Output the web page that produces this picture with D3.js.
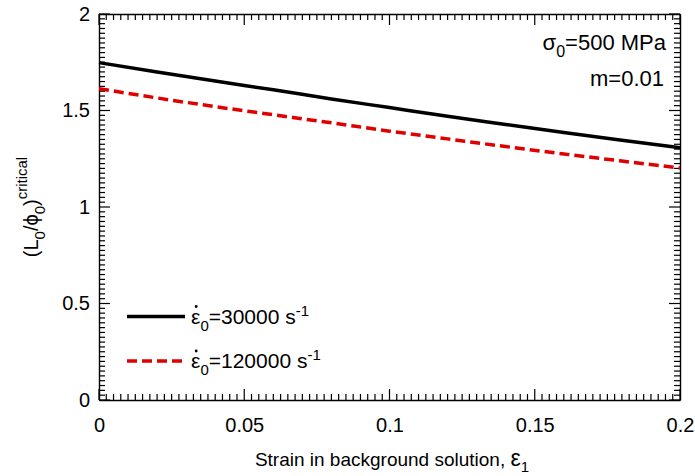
<!DOCTYPE html>
<html>
<head>
<meta charset="utf-8">
<script src="https://cdn.jsdelivr.net/npm/d3@7"></script>
<style>
  body { margin: 0; background: #fff; }
  text { font-family: Arial, "Liberation Sans", sans-serif; fill: #000; }
</style>
</head>
<body>
<div id="chart"></div>
<script>
// strain in background solution
const strain = [0, 0.02, 0.04, 0.06, 0.08, 0.1, 0.12, 0.14, 0.16, 0.18, 0.2];
// (L0/phi0) critical, strain rate 30000 1/s
const rate30000 = [1.748, 1.700, 1.653, 1.607, 1.560, 1.515, 1.470, 1.428, 1.386, 1.346, 1.307];
// (L0/phi0) critical, strain rate 120000 1/s
const rate120000 = [1.613, 1.565, 1.520, 1.478, 1.436, 1.393, 1.353, 1.313, 1.275, 1.238, 1.202];

const xTicks = [0, 0.05, 0.1, 0.15, 0.2];
const yTicks = [0, 0.5, 1, 1.5, 2];

const W = 695, H = 476;
const plotL = 99, plotR = 680, plotT = 14, plotB = 400;
const fs = 20;

const svg = d3.select('#chart')
  .append('svg')
  .attr('width', W)
  .attr('height', H);

const x = d3.scaleLinear().domain([0, 0.2]).range([plotL, plotR]);
const y = d3.scaleLinear().domain([0, 2]).range([plotB, plotT]);

const fmt = d => String(+d.toFixed(3));
const xMinor = d3.range(0, 81).map(i => i * 0.0025);
const yMinor = d3.range(0, 81).map(i => i * 0.025);

// frame + labels from d3 axes
function styleAxis(g) {
  g.select('.domain').attr('stroke', '#000').attr('stroke-width', 1.4);
  g.selectAll('text').style('font-size', fs + 'px').attr('fill', '#000');
}
svg.append('g').attr('transform', `translate(0,${plotB})`)
  .call(d3.axisBottom(x).tickValues(xTicks).tickSize(0).tickPadding(18).tickFormat(fmt))
  .call(styleAxis);
svg.append('g').attr('transform', `translate(0,${plotT})`)
  .call(d3.axisTop(x).tickValues([]).tickSize(0))
  .call(styleAxis);
svg.append('g').attr('transform', `translate(${plotL},0)`)
  .call(d3.axisLeft(y).tickValues(yTicks).tickSize(0).tickPadding(9).tickFormat(fmt))
  .call(styleAxis);
svg.append('g').attr('transform', `translate(${plotR},0)`)
  .call(d3.axisRight(y).tickValues([]).tickSize(0))
  .call(styleAxis);

// inward tick marks on all four sides, as thin filled rects
const isMajorX = v => xTicks.some(t => Math.abs(t - v) < 1e-9);
const isMajorY = v => yTicks.some(t => Math.abs(t - v) < 1e-9);
const tw = 1.2;
const tickG = svg.append('g').attr('fill', '#000');
tickG.selectAll('rect.xb').data(xMinor).join('rect').attr('class', 'xb')
  .attr('x', d => x(d) - tw / 2).attr('width', tw)
  .attr('y', d => plotB - (isMajorX(d) ? 11 : 6)).attr('height', d => isMajorX(d) ? 11 : 6);
tickG.selectAll('rect.xt').data(xMinor).join('rect').attr('class', 'xt')
  .attr('x', d => x(d) - tw / 2).attr('width', tw)
  .attr('y', plotT).attr('height', d => isMajorX(d) ? 11 : 6);
tickG.selectAll('rect.yl').data(yMinor).join('rect').attr('class', 'yl')
  .attr('y', d => y(d) - tw / 2).attr('height', tw)
  .attr('x', plotL).attr('width', d => isMajorY(d) ? 11 : 6);
tickG.selectAll('rect.yr').data(yMinor).join('rect').attr('class', 'yr')
  .attr('y', d => y(d) - tw / 2).attr('height', tw)
  .attr('x', d => plotR - (isMajorY(d) ? 11 : 6)).attr('width', d => isMajorY(d) ? 11 : 6);

// curves
const line = d3.line()
  .x((d, i) => x(strain[i]))
  .y(d => y(d))
  .curve(d3.curveMonotoneX);

svg.append('path')
  .datum(rate30000)
  .attr('fill', 'none')
  .attr('stroke', '#000')
  .attr('stroke-width', 3.5)
  .attr('d', line);

svg.append('path')
  .datum(rate120000)
  .attr('fill', 'none')
  .attr('stroke', '#e00000')
  .attr('stroke-width', 3.5)
  .attr('stroke-dasharray', '10,5')
  .attr('d', line);

// legend
const legend = [
  { label: '30000', color: '#000', dash: null, yPos: 316.5 },
  { label: '120000', color: '#e00000', dash: '10,5', yPos: 361 }
];
legend.forEach(l => {
  svg.append('line')
    .attr('x1', 127).attr('x2', 185)
    .attr('y1', l.yPos).attr('y2', l.yPos)
    .attr('stroke', l.color)
    .attr('stroke-width', 3.5)
    .attr('stroke-dasharray', l.dash);
  const t = svg.append('text')
    .attr('x', 191).attr('y', l.yPos + 7)
    .style('font-size', '21px');
  const eps = t.append('tspan').text('\u03B5');
  t.append('tspan').attr('dy', 7).style('font-size', '15px').text('0');
  t.append('tspan').attr('dy', -7).text('=' + l.label + ' s');
  t.append('tspan').attr('dy', -8).style('font-size', '15px').text('-1');
  // dot over epsilon (strain rate)
  const w = eps.node().getComputedTextLength();
  svg.append('circle')
    .attr('cx', 191 + w / 2 + 0.5).attr('cy', l.yPos - 10)
    .attr('r', 1.4).attr('fill', '#000');
});

// annotation
const a1 = svg.append('text')
  .attr('x', 666).attr('y', 50)
  .attr('text-anchor', 'end')
  .style('font-size', '22px');
a1.append('tspan').text('\u03C3');
a1.append('tspan').attr('dy', 7).style('font-size', '16px').text('0');
a1.append('tspan').attr('dy', -7).text('=500 MPa');

svg.append('text')
  .attr('x', 664).attr('y', 86)
  .attr('text-anchor', 'end')
  .style('font-size', '22px')
  .text('m=0.01');

// x title
const xt = svg.append('text')
  .attr('x', 392).attr('y', 466)
  .attr('text-anchor', 'middle')
  .style('font-size', '19px');
xt.append('tspan').text('Strain in background solution, ');
xt.append('tspan').style('font-size', '23px').text('\u03B5');
xt.append('tspan').attr('dy', 6).style('font-size', '15px').text('1');

// y title
const yt = svg.append('text')
  .attr('transform', 'translate(38,207) rotate(-90)')
  .attr('text-anchor', 'middle')
  .style('font-size', fs + 'px');
yt.append('tspan').text('(L');
yt.append('tspan').attr('dy', 7).style('font-size', '15px').text('0');
yt.append('tspan').attr('dy', -7).text('/\u03D5');
yt.append('tspan').attr('dy', 7).style('font-size', '15px').text('0');
yt.append('tspan').attr('dy', -7).text(')');
yt.append('tspan').attr('dy', -11).style('font-size', '15px').text('critical');
</script>
</body>
</html>
